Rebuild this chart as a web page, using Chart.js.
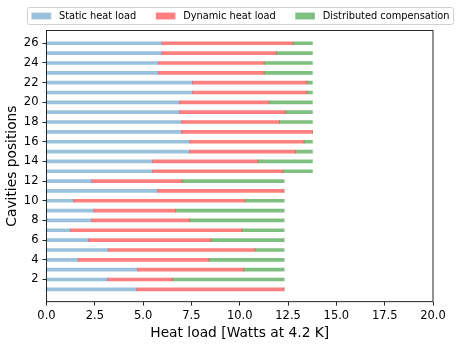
<!DOCTYPE html>
<html>
<head>
<meta charset="utf-8">
<script src="https://cdn.jsdelivr.net/npm/chart.js@4/dist/chart.umd.min.js"></script>
<style>
html, body { margin: 0; padding: 0; background: #fff; }
#wrap { width: 463px; height: 348px; }
</style>
</head>
<body>
<div id="wrap"><canvas id="heatLoadChart"></canvas></div>
<script>
// cavity positions along the y axis
const positions = [1, 2, 3, 4, 5, 6, 7, 8, 9, 10, 11, 12, 13, 14, 15, 16, 17, 18, 19, 20, 21, 22, 23, 24, 25, 26];

// heat load segments [W at 4.2 K], one per cavity
const staticLoad = [4.66, 3.16, 4.71, 1.64, 3.19, 2.17, 1.24, 2.33, 2.45, 1.40, 5.74, 2.34, 5.48,
                    5.48, 7.40, 7.40, 6.98, 6.98, 6.88, 6.88, 7.55, 7.55, 5.79, 5.79, 5.97, 5.97];
const dynamicLoad = [7.63, 3.37, 5.50, 6.77, 7.60, 6.35, 8.88, 5.08, 4.24, 8.88, 6.55, 4.68, 6.76,
                     5.47, 5.50, 5.93, 6.78, 5.07, 5.50, 4.64, 5.93, 5.93, 5.47, 5.47, 5.93, 6.79];
const distributedComp = [0, 5.77, 2.09, 3.89, 1.51, 3.78, 2.18, 4.89, 5.61, 2.02, 0, 5.28, 1.52,
                         2.81, 0.86, 0.43, 0, 1.71, 1.38, 2.24, 0.28, 0.28, 2.50, 2.50, 1.86, 1.00];

const seriesLabels = ['Static heat load', 'Dynamic heat load', 'Distributed compensation'];
const seriesColors = ['rgba(31,119,180,0.45)', 'rgba(255,0,0,0.5)', 'rgba(0,128,0,0.5)'];

const xTicks = [0, 2.5, 5, 7.5, 10, 12.5, 15, 17.5, 20];
const yTicks = [2, 4, 6, 8, 10, 12, 14, 16, 18, 20, 22, 24, 26];

function toPoints(values){
    return values.map(function(v, i){ return {x: v, y: positions[i]}; });
}

// box around the plot + matplotlib style legend above it
const frameAndLegend = {
    id: 'frameAndLegend',
    afterDraw(chart){
        const ctx = chart.ctx;
        const area = chart.chartArea;
        ctx.save();
        ctx.strokeStyle = '#262626';
        ctx.lineWidth = 1;
        ctx.strokeRect(area.left, area.top, area.right - area.left, area.bottom - area.top);

        const fs = 9.8;
        ctx.font = fs + 'px "DejaVu Sans"';
        const sets = chart.data.datasets;
        let widths = sets.map(function(d){ return ctx.measureText(d.label).width; });
        let inner = 0;
        widths.forEach(function(w, i){
            inner += 2 * fs + 0.8 * fs + w;
            if(i < widths.length - 1) inner += 2 * fs;
        });
        const pad = 4;
        const boxW = inner + pad * 2;
        const cx = (area.left + area.right) / 2;
        const bx = Math.round(cx - boxW / 2) + 0.5;
        const by = 7.5;
        const bh = 17;
        ctx.beginPath();
        ctx.roundRect(bx, by, boxW, bh, 2);
        ctx.fillStyle = 'rgba(255,255,255,0.8)';
        ctx.fill();
        ctx.strokeStyle = '#d0d0d0';
        ctx.stroke();

        let x = bx + pad;
        const cy = by + bh / 2;
        ctx.textBaseline = 'middle';
        ctx.textAlign = 'left';
        sets.forEach(function(d, i){
            ctx.fillStyle = d.backgroundColor;
            ctx.fillRect(x, cy - 0.35 * fs, 2 * fs, 0.7 * fs);
            x += 2 * fs + 0.8 * fs;
            ctx.fillStyle = '#000';
            ctx.fillText(d.label, x, cy + 0.5);
            x += widths[i] + 2 * fs;
        });
        ctx.restore();
    }
};

Chart.defaults.font.family = '"DejaVu Sans", sans-serif';
Chart.defaults.color = '#000';

const ctx = document.getElementById('heatLoadChart').getContext('2d');
new Chart(ctx, {
    type: 'bar',
    data: {
        datasets: [
            {label: seriesLabels[0], data: toPoints(staticLoad), backgroundColor: seriesColors[0]},
            {label: seriesLabels[1], data: toPoints(dynamicLoad), backgroundColor: seriesColors[1]},
            {label: seriesLabels[2], data: toPoints(distributedComp), backgroundColor: seriesColors[2]}
        ]
    },
    options: {
        indexAxis: 'y',
        responsive: true,
        maintainAspectRatio: false,
        animation: false,
        layout: {
            padding: {top: 30.5, right: 30, bottom: 6, left: 0}
        },
        datasets: {
            bar: {barThickness: 3, borderWidth: 0}
        },
        plugins: {
            legend: {display: false},
            tooltip: {enabled: false}
        },
        scales: {
            x: {
                type: 'linear',
                stacked: true,
                min: 0,
                max: 20,
                afterBuildTicks(scale){
                    scale.ticks = xTicks.map(function(v){ return {value: v}; });
                },
                ticks: {
                    font: {size: 11.5},
                    padding: 3,
                    maxRotation: 0,
                    callback: function(v){ return Number(v).toFixed(1); }
                },
                grid: {drawOnChartArea: false, drawTicks: true, tickLength: 4, color: '#262626'},
                border: {display: false},
                title: {
                    display: true,
                    text: 'Heat load [Watts at 4.2 K]',
                    font: {size: 13.8},
                    padding: {top: 0, bottom: 0}
                }
            },
            y: {
                type: 'linear',
                stacked: true,
                offset: false,
                min: -0.25,
                max: 27.3,
                afterBuildTicks(scale){
                    scale.ticks = yTicks.map(function(v){ return {value: v}; });
                },
                afterFit(scale){
                    scale.width = 46.5;
                },
                ticks: {
                    font: {size: 11.5},
                    padding: 4
                },
                grid: {offset: false, drawOnChartArea: false, drawTicks: true, tickLength: 4, color: '#262626'},
                border: {display: false},
                title: {
                    display: true,
                    text: 'Cavities positions',
                    font: {size: 13.8},
                    padding: {top: 4, bottom: 0}
                }
            }
        }
    },
    plugins: [frameAndLegend]
});
</script>
</body>
</html>
